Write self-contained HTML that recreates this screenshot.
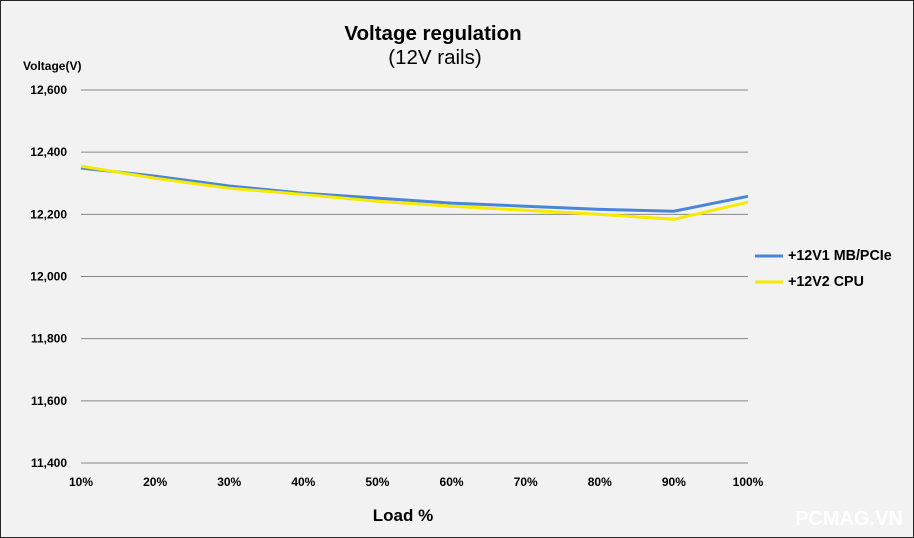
<!DOCTYPE html>
<html><head><meta charset="utf-8"><style>
html,body{margin:0;padding:0;background:#fff}
#c{position:relative;width:912px;height:536px;background:#f2f2f2;border:1px solid #262626;font-family:"Liberation Sans",sans-serif}
</style></head><body>
<div id="c">
<svg id="s" width="912" height="536" style="position:absolute;left:0;top:0">
<text x="432" y="39" text-anchor="middle" font-size="20.5" font-weight="bold" fill="#000">Voltage regulation</text>
<text x="434" y="63" text-anchor="middle" font-size="20.5" fill="#000">(12V rails)</text>
<text x="22" y="69" font-size="12" font-weight="bold" fill="#000">Voltage(V)</text>
<text x="402" y="520" text-anchor="middle" font-size="17" font-weight="bold" fill="#000">Load %</text>
<text x="848" y="524" text-anchor="middle" font-size="20" font-weight="bold" fill="#ffffff">PCMAG.VN</text>
<g id="grid"></g><g id="lines"></g>
<line x1="754" y1="255" x2="782" y2="255" stroke="#4a86d8" stroke-width="3"/>
<text x="787" y="259" font-size="14.3" font-weight="bold">+12V1 MB/PCIe</text>
<line x1="754" y1="281" x2="782" y2="281" stroke="#f5ea00" stroke-width="3"/>
<text x="787" y="285" font-size="14.3" font-weight="bold">+12V2 CPU</text>
</svg>
</div>
<script>
const categories=["10%","20%","30%","40%","50%","60%","70%","80%","90%","100%"];
const seriesMB=[12349,12323,12291,12268,12252,12236,12226,12216,12210,12258];
const seriesCPU=[12355,12316,12284,12264,12242,12226,12213,12200,12184,12239];
const yTicks=[11400,11600,11800,12000,12200,12400,12600];
const yLabels=["11,400","11,600","11,800","12,000","12,200","12,400","12,600"];
const NS="http://www.w3.org/2000/svg";
const x0=80,x1=747,yTop=89,yBot=462,vMin=11400,vMax=12600;
function xs(i){return x0+i*(x1-x0)/(categories.length-1);}
function ys(v){return yBot-(v-vMin)/(vMax-vMin)*(yBot-yTop);}
const g=document.getElementById('grid');
yTicks.forEach((t,i)=>{
 const l=document.createElementNS(NS,'line');
 l.setAttribute('x1',x0);l.setAttribute('x2',x1);l.setAttribute('y1',ys(t));l.setAttribute('y2',ys(t));
 l.setAttribute('stroke','#868686');l.setAttribute('stroke-width','1');
 
 
 g.appendChild(l);
 const tx=document.createElementNS(NS,'text');
 tx.setAttribute('x',66);tx.setAttribute('y',ys(t)+4);tx.setAttribute('text-anchor','end');
 tx.setAttribute('font-size','12');tx.setAttribute('font-weight','bold');tx.textContent=yLabels[i];
 
 
 g.appendChild(tx);
});
categories.forEach((c,i)=>{
 const tx=document.createElementNS(NS,'text');
 tx.setAttribute('x',xs(i));tx.setAttribute('y',485);tx.setAttribute('text-anchor','middle');
 tx.setAttribute('font-size','12');tx.setAttribute('font-weight','bold');tx.textContent=c;
 
 
 g.appendChild(tx);
});
const lg=document.getElementById('lines');
function draw(data,color,name){
 const p=document.createElementNS(NS,'polyline');
 p.setAttribute('points',data.map((v,i)=>xs(i)+','+ys(v)).join(' '));
 p.setAttribute('fill','none');p.setAttribute('stroke',color);p.setAttribute('stroke-width','3');
 
 
 lg.appendChild(p);
}
draw(seriesMB,'#4a86d8','line-12v1');
draw(seriesCPU,'#f5ea00','line-12v2');
</script>
</body></html>
